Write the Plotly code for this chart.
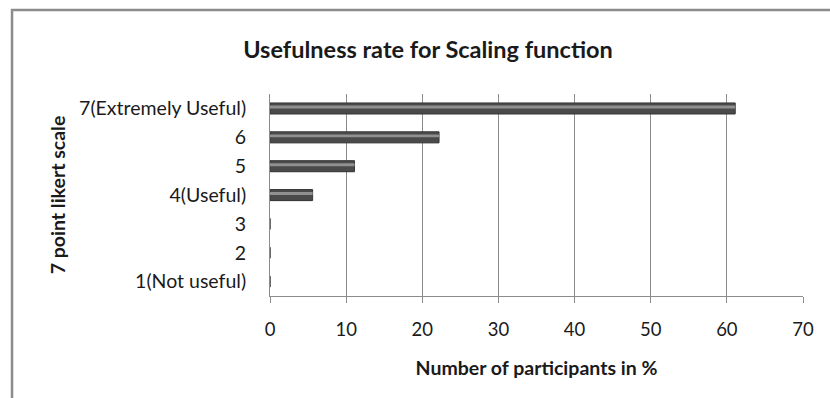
import plotly.graph_objects as go

# Likert rating categories (bottom to top) and share of participants (%)
categories = ["1(Not useful)", "2", "3", "4(Useful)", "5", "6", "7(Extremely Useful)"]
percent = [0, 0, 0, 5.6, 11.1, 22.2, 61.1]
x_ticks = [0, 10, 20, 30, 40, 50, 60, 70]

FONT = "Lato"
TEXT = "#1a1a1a"
GRID = "#8c8c8c"

fig = go.Figure()

# soft drop shadow under each bar
fig.add_trace(go.Bar(
    y=categories, x=percent, orientation="h",
    width=0.38, offset=-0.23,
    marker=dict(color="rgba(0,0,0,0.12)", line=dict(width=0)),
    hoverinfo="skip", showlegend=False,
))
# main dark bar body
fig.add_trace(go.Bar(
    y=categories, x=percent, orientation="h",
    width=0.38, offset=-0.19,
    marker=dict(color="#4a4a4a", line=dict(color="#383838", width=1)),
    showlegend=False,
))
# lighter bevel band across the upper half
fig.add_trace(go.Bar(
    y=categories, x=percent, orientation="h",
    width=0.1, offset=0.0,
    marker=dict(color="#909090", line=dict(width=0)),
    hoverinfo="skip", showlegend=False,
))

fig.update_layout(
    width=830, height=398,
    margin=dict(l=270, r=27, t=93.5, b=101.5),
    paper_bgcolor="white", plot_bgcolor="white",
    barmode="overlay",
    font=dict(family=FONT, color=TEXT, size=18),
    title=dict(
        text="<b>Usefulness rate for Scaling function</b>",
        x=428 / 830, xref="container", xanchor="center",
        y=1 - 50 / 398, yref="container", yanchor="middle",
        font=dict(family=FONT, size=23.5, color=TEXT),
    ),
    xaxis=dict(
        range=[0, 70], tickvals=x_ticks,
        showgrid=True, gridcolor=GRID, gridwidth=1,
        zeroline=False,
        showline=True, linecolor=GRID, linewidth=1,
        ticks="outside", ticklen=6, tickcolor=GRID,
        ticklabelstandoff=11,
        tickfont=dict(size=18.5, color=TEXT),
        title=dict(text="<b>Number of participants in %</b>",
                   font=dict(size=19.5, color=TEXT), standoff=22),
        fixedrange=True,
    ),
    yaxis=dict(
        categoryorder="array", categoryarray=categories,
        showgrid=False, zeroline=False,
        showline=True, linecolor=GRID, linewidth=1,
        ticks="", ticklabelstandoff=19,
        tickfont=dict(size=19.5, color=TEXT),
        title=dict(text="<b>7 point likert scale</b>",
                   font=dict(size=19.5, color=TEXT), standoff=8),
        fixedrange=True,
    ),
    shapes=[
        # chart-area frame, open to the right and bottom
        dict(type="rect", xref="paper", yref="paper",
             x0=-0.484, x1=1.2, y0=-0.6, y1=1.416,
             line=dict(color="#8c8c8c", width=2.5), fillcolor="rgba(0,0,0,0)",
             layer="below"),
    ],
)

fig.write_html("out.html")
